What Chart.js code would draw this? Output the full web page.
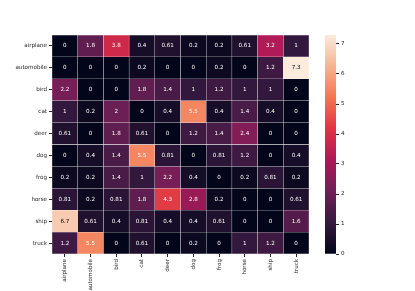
<!DOCTYPE html>
<html>
<head>
<meta charset="utf-8">
<script src="https://cdn.jsdelivr.net/npm/chart.js@4"></script>
<style>
  html, body { margin: 0; padding: 0; background: #fff; }
  #wrap { position: relative; width: 415px; height: 291px; }
  #heat { position: absolute; left: 0; top: 0; }
  #cbar { position: absolute; left: 325px; top: 0; }
</style>
</head>
<body>
<div id="wrap">
  <canvas id="heat" width="415" height="291"></canvas>
  <canvas id="cbar" width="45" height="291"></canvas>
</div>
<script>
const classes = ['airplane','automobile','bird','cat','deer','dog','frog','horse','ship','truck'];

const airplaneRow   = [0, 1.8, 3.8, 0.4, 0.61, 0.2, 0.2, 0.61, 3.2, 1];
const automobileRow = [0, 0, 0, 0.2, 0, 0, 0.2, 0, 1.2, 7.3];
const birdRow       = [2.2, 0, 0, 1.8, 1.4, 1, 1.2, 1, 1, 0];
const catRow        = [1, 0.2, 2, 0, 0.4, 5.5, 0.4, 1.4, 0.4, 0];
const deerRow       = [0.61, 0, 1.8, 0.61, 0, 1.2, 1.4, 2.4, 0, 0];
const dogRow        = [0, 0.4, 1.4, 5.5, 0.81, 0, 0.81, 1.2, 0, 0.4];
const frogRow       = [0.2, 0.2, 1.4, 1, 2.2, 0.4, 0, 0.2, 0.81, 0.2];
const horseRow      = [0.81, 0.2, 0.81, 1.8, 4.3, 2.8, 0.2, 0, 0, 0.61];
const shipRow       = [6.7, 0.61, 0.4, 0.81, 0.4, 0.4, 0.61, 0, 0, 1.6];
const truckRow      = [1.2, 5.5, 0, 0.61, 0, 0.2, 0, 1, 1.2, 0];

const colorbarTicks = [0, 1, 2, 3, 4, 5, 6, 7];

const matrix = [airplaneRow, automobileRow, birdRow, catRow, deerRow, dogRow, frogRow, horseRow, shipRow, truckRow];
const vmax = Math.max(...matrix.flat());

// seaborn "rocket" colormap approximation
const rocketStops = [
  [0/7, [3,5,26]],
  [1/7, [0x35,0x19,0x3e]],
  [2/7, [0x70,0x1f,0x57]],
  [3/7, [0xad,0x17,0x59]],
  [4/7, [0xe1,0x33,0x42]],
  [5/7, [0xf3,0x76,0x51]],
  [6/7, [0xf6,0xb4,0x8f]],
  [1,   [0xfa,0xeb,0xdd]]
];
function rocketRGB(t) {
  t = Math.max(0, Math.min(1, t));
  for (let i = 1; i < rocketStops.length; i++) {
    if (t <= rocketStops[i][0]) {
      const [t0, c0] = rocketStops[i-1], [t1, c1] = rocketStops[i];
      const f = (t - t0) / (t1 - t0);
      return c0.map((v, k) => Math.round(v + (c1[k] - v) * f));
    }
  }
  return rocketStops[rocketStops.length-1][1];
}
function rgbStr(c) { return `rgb(${c[0]},${c[1]},${c[2]})`; }
function lum(c) {
  const l = c.map(v => { v /= 255; return v <= 0.03928 ? v / 12.92 : Math.pow((v + 0.055) / 1.055, 2.4); });
  return 0.2126*l[0] + 0.7152*l[1] + 0.0722*l[2];
}

const FONT = { family: 'DejaVu Sans', size: 5.6 };
const TXT = '#262626';

const datasets = matrix.map((row, r) => ({
  label: classes[r],
  data: row.map(() => [r, r + 1]),
  backgroundColor: row.map(v => rgbStr(rocketRGB(v / vmax))),
  borderColor: 'rgba(255,255,255,0.05)',
  borderWidth: 0.5,
  borderSkipped: false
}));

const annotPlugin = {
  id: 'annot',
  afterDatasetsDraw(chart) {
    const ctx = chart.ctx, xs = chart.scales.x, ys = chart.scales.y;
    ctx.save();
    ctx.font = `${FONT.size}px ${FONT.family}`;
    ctx.textAlign = 'center';
    ctx.textBaseline = 'middle';
    matrix.forEach((row, r) => row.forEach((v, c) => {
      const col = rocketRGB(v / vmax);
      ctx.fillStyle = lum(col) > 0.408 ? '#000' : '#fff';
      ctx.fillText(String(v), xs.getPixelForValue(c), ys.getPixelForValue(r + 0.5));
    }));
    ctx.restore();
  }
};

new Chart(document.getElementById('heat'), {
  type: 'bar',
  data: { labels: classes, datasets },
  options: {
    responsive: false,
    animation: false,
    layout: { padding: { left: 0, top: 35, right: 106, bottom: 0 } },
    datasets: { bar: { grouped: false, barPercentage: 1, categoryPercentage: 1 } },
    plugins: { legend: { display: false }, tooltip: { enabled: false } },
    scales: {
      x: {
        type: 'category',
        offset: true,
        grid: { display: true, offset: false, drawOnChartArea: false, drawTicks: true, tickLength: 3, tickColor: TXT },
        border: { display: false },
        ticks: { font: FONT, color: TXT, minRotation: 90, maxRotation: 90, autoSkip: false, padding: 2 },
        afterFit(s) { s.height = 37; }
      },
      y: {
        type: 'linear',
        min: 0, max: 10,
        reverse: true,
        grid: { display: true, drawOnChartArea: false, drawTicks: true, tickLength: 3, tickColor: TXT },
        border: { display: false },
        afterBuildTicks(s) { s.ticks = classes.map((_, i) => ({ value: i + 0.5 })); },
        ticks: { font: FONT, color: TXT, padding: 2, autoSkip: false,
                 callback: v => classes[Math.floor(v)] },
        afterFit(s) { s.width = 52; }
      }
    }
  },
  plugins: [annotPlugin]
});

// colorbar
new Chart(document.getElementById('cbar'), {
  type: 'bar',
  data: {
    labels: [''],
    datasets: [{
      data: [[0, vmax]],
      borderWidth: 0,
      borderSkipped: false,
      backgroundColor(ctx) {
        const a = ctx.chart.chartArea;
        if (!a) return '#000';
        const ys = ctx.chart.scales.y;
        const g = ctx.chart.ctx.createLinearGradient(0, ys.getPixelForValue(0), 0, ys.getPixelForValue(vmax));
        rocketStops.forEach(([t, c]) => g.addColorStop(t, rgbStr(c)));
        return g;
      }
    }]
  },
  options: {
    responsive: false,
    animation: false,
    layout: { padding: { left: 0, top: 35, right: 0, bottom: 37 } },
    datasets: { bar: { barPercentage: 1, categoryPercentage: 1 } },
    plugins: { legend: { display: false }, tooltip: { enabled: false } },
    scales: {
      x: { display: false },
      y: {
        position: 'right',
        min: 0, max: vmax,
        grid: { display: true, drawOnChartArea: false, drawTicks: true, tickLength: 3, tickColor: TXT },
        border: { display: false },
        afterBuildTicks(s) { s.ticks = colorbarTicks.map(v => ({ value: v })); },
        ticks: { font: FONT, color: TXT, padding: 2 },
        afterFit(s) { s.width = 34; }
      }
    }
  }
});
</script>
</body>
</html>
